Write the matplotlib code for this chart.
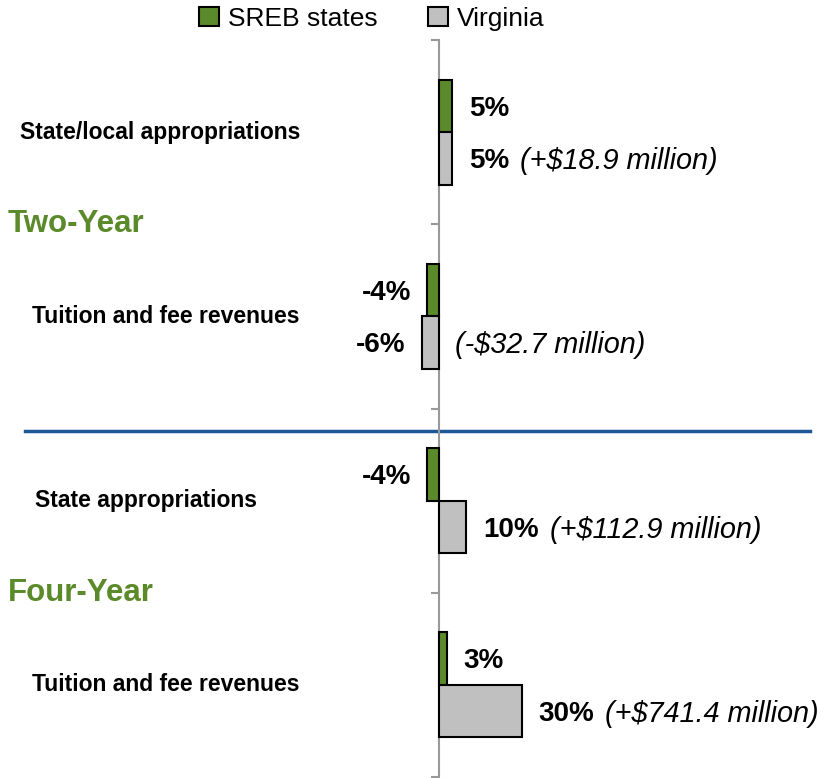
import numpy as np
import matplotlib
matplotlib.use("Agg")
import matplotlib.pyplot as plt
from matplotlib import font_manager

# data
categories = ["State/local appropriations", "Tuition and fee revenues",
              "State appropriations", "Tuition and fee revenues"]
sections = ["Two-Year", "Four-Year"]
sreb = [5, -4, -4, 3]
virginia = [5, -6, 10, 30]
va_notes = ["(+$18.9 million)", "(-$32.7 million)",
            "(+$112.9 million)", "(+$741.4 million)"]

green = "#5b8a2b"
grey = "#c0c0c0"

plt.rcParams['font.family'] = ['Liberation Sans', 'DejaVu Sans']
names = {f.name for f in font_manager.fontManager.ttflist}
if 'Liberation Sans Narrow' in names:
    cat_font, cat_size = 'Liberation Sans Narrow', 20
else:
    cat_font, cat_size = 'Liberation Sans', 16.5

W, H = 835, 778
fig = plt.figure(figsize=(W / 100, H / 100), dpi=100)
ax = fig.add_axes([0, 1 - 777 / H, 1, (777 - 40) / H])

y = np.arange(len(categories))
bh = 0.285
b1 = ax.barh(y - bh / 2, sreb, height=bh, color=green, edgecolor='black', linewidth=1.5, label='SREB states', zorder=3)
b2 = ax.barh(y + bh / 2, virginia, height=bh, color=grey, edgecolor='black', linewidth=1.5, label='Virginia', zorder=3)

ax.set_xlim(-438.5 / 2.77, (W - 438.5) / 2.77)
ax.set_ylim(len(categories) - 0.5, -0.5)

for s in ['top', 'right', 'bottom']:
    ax.spines[s].set_visible(False)
ax.spines['left'].set_position(('data', 0))
ax.spines['left'].set_color('#999999')
ax.spines['left'].set_linewidth(1.5)
ax.set_yticks(np.arange(-0.5, len(categories)))
ax.set_yticklabels([])
ax.tick_params(axis='y', direction='out', length=6, width=1.5, color='#999999')
ax.set_xticks([])

# divider between two-year and four-year
ax.axhline(1.62, xmin=25 / W, xmax=810 / W, color='#1a5896', linewidth=2.5, zorder=2)

pct_kw = dict(fontsize=20, fontweight='bold', va='center', textcoords='offset points')
for i in range(len(categories)):
    v = sreb[i]
    ax.annotate(f"{v}%", (v, y[i] - bh / 2), xytext=(12 if v > 0 else -12, -2),
                ha='left' if v > 0 else 'right', **pct_kw)
    v = virginia[i]
    t = ax.annotate(f"{v}%", (v, y[i] + bh / 2), xytext=(12 if v > 0 else -12, -2),
                    ha='left' if v > 0 else 'right', **pct_kw)
    if v > 0:
        ax.annotate(va_notes[i], (1, 0.5), xycoords=t, xytext=(8, 0), textcoords='offset points',
                    fontsize=20.8, fontstyle='italic', va='center', ha='left')
    else:
        ax.annotate(va_notes[i], (0, y[i] + bh / 2), xytext=(12, -2), textcoords='offset points',
                    fontsize=20.8, fontstyle='italic', va='center', ha='left')

label_x = [160, 166, 146, 166]
for i, c in enumerate(categories):
    ax.text(label_x[i] / W, y[i], c, transform=ax.get_yaxis_transform(), ha='center', va='center',
            fontsize=cat_size, fontweight='bold', family=[cat_font, 'DejaVu Sans'])

for j, s in enumerate(sections):
    ax.text(8 / W, 0.5 + 2 * j, s, transform=ax.get_yaxis_transform(), ha='left', va='center',
            fontsize=22.5, fontweight='bold', color=green)

fig.legend(handles=[b1, b2], loc='center', bbox_to_anchor=(372 / W, 1 - 19 / H), ncol=2,
           frameon=False, fontsize=19, handlelength=0.75, handleheight=0.75,
           handletextpad=0.35, columnspacing=1.9, borderpad=0)

fig.savefig("out.png", dpi=100)
